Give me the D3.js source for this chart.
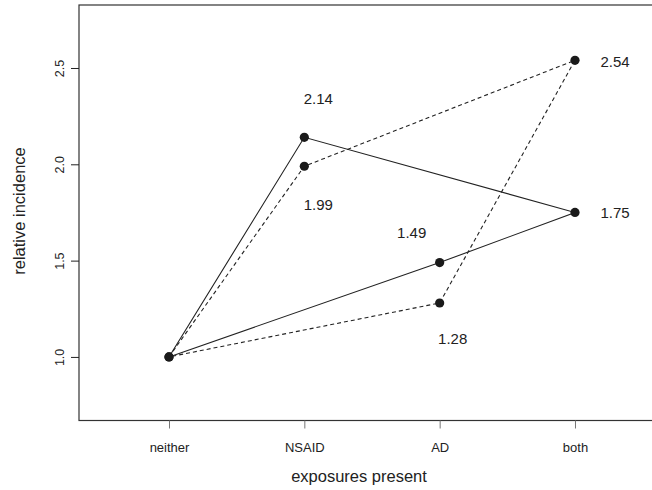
<!DOCTYPE html>
<html>
<head>
<meta charset="utf-8">
<script src="https://cdn.jsdelivr.net/npm/d3@7"></script>
<style>
  body { margin: 0; background: #fff; }
  svg { display: block; font-family: "Liberation Sans", Arial, Helvetica, sans-serif; }
</style>
</head>
<body>
<div id="chart"></div>
<script>
// exposure groups along the x axis
const exposures = ["neither", "NSAID", "AD", "both"];
// two series of relative incidence
const solidValues = [1.00, 2.14, 1.49, 1.75];
const dashedValues = [1.00, 1.99, 1.28, 2.54];
// y tick labels
const yTicks = [1.0, 1.5, 2.0, 2.5];
// order the points are joined in: neither -> NSAID -> both -> AD -> neither
const pathOrder = [0, 1, 3, 2, 0];

const width = 652, height = 490;
const box = { left: 79, right: 660, top: 5, bottom: 420.5 };

const svg = d3.select("#chart").append("svg")
  .attr("width", width)
  .attr("height", height);

// groups sit 135.33 px apart, first one at x = 169
const x = d3.scaleLinear()
  .domain([0, 3])
  .range([169, 169 + 3 * 135.33]);

const y = d3.scaleLinear()
  .domain([0.67, 2.827])
  .range([box.bottom, box.top]);

// plot box
svg.append("rect")
  .attr("x", box.left)
  .attr("y", box.top)
  .attr("width", box.right - box.left)
  .attr("height", box.bottom - box.top)
  .attr("fill", "none")
  .attr("stroke", "#333")
  .attr("stroke-width", 1.2);

// x axis
const xAxis = svg.append("g")
  .attr("transform", "translate(0," + box.bottom + ")")
  .call(d3.axisBottom(x)
    .tickValues(d3.range(exposures.length))
    .tickFormat(i => exposures[i])
    .tickSize(8)
    .tickPadding(14));
xAxis.select(".domain").remove();
xAxis.selectAll(".tick line").attr("stroke", "#777");
xAxis.selectAll(".tick text")
  .attr("fill", "#222")
  .style("font-size", "13px");

// y axis
const yAxis = svg.append("g")
  .attr("transform", "translate(" + box.left + ",0)")
  .call(d3.axisLeft(y)
    .tickValues(yTicks)
    .tickFormat(d3.format(".1f"))
    .tickSize(8));
yAxis.select(".domain").remove();
yAxis.selectAll(".tick line").attr("stroke", "#222");
yAxis.selectAll(".tick text")
  .attr("fill", "#222")
  .attr("x", 0)
  .attr("dy", 0)
  .attr("transform", "translate(-19,0) rotate(-90)")
  .attr("text-anchor", "middle")
  .attr("dominant-baseline", "central")
  .style("font-size", "12.5px");

// axis titles
svg.append("text")
  .attr("x", 359)
  .attr("y", 482)
  .attr("text-anchor", "middle")
  .attr("fill", "#222")
  .style("font-size", "16.5px")
  .text("exposures present");

svg.append("text")
  .attr("transform", "translate(25,211) rotate(-90)")
  .attr("text-anchor", "middle")
  .attr("fill", "#222")
  .style("font-size", "16.5px")
  .text("relative incidence");

const line = d3.line()
  .x(i => x(i));

function drawSeries(values, dash) {
  svg.append("path")
    .datum(pathOrder)
    .attr("d", line.y(i => y(values[i])))
    .attr("fill", "none")
    .attr("stroke", "#222")
    .attr("stroke-width", 1.1)
    .attr("stroke-dasharray", dash);

  svg.append("g").selectAll("circle")
    .data(values)
    .enter()
    .append("circle")
    .attr("cx", (d, i) => x(i))
    .attr("cy", d => y(d))
    .attr("r", 4.6)
    .attr("fill", "#1a1a1a");
}

drawSeries(solidValues, null);
drawSeries(dashedValues, "4,3");

// value labels (offsets in px from each point)
const solidOffsets = [null, [14, -39], [-28, -30], [40, 0]];
const dashedOffsets = [null, [14, 38], [13, 36], [40, 1.5]];

function drawLabels(values, offsets) {
  svg.append("g").selectAll("text")
    .data(values.map((v, i) => ({ v: v, i: i })).filter(d => offsets[d.i]))
    .enter()
    .append("text")
    .attr("x", d => x(d.i) + offsets[d.i][0])
    .attr("y", d => y(d.v) + offsets[d.i][1])
    .attr("text-anchor", "middle")
    .attr("dominant-baseline", "central")
    .attr("fill", "#222")
    .style("font-size", "15px")
    .text(d => d3.format(".2f")(d.v));
}

drawLabels(solidValues, solidOffsets);
drawLabels(dashedValues, dashedOffsets);
</script>
</body>
</html>
